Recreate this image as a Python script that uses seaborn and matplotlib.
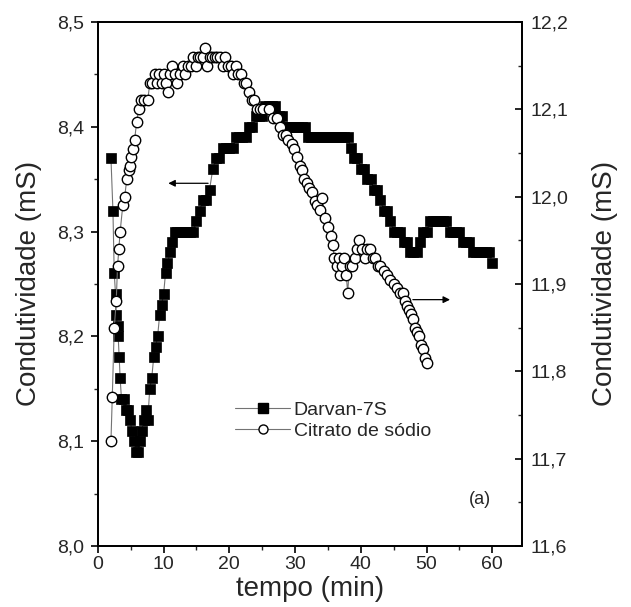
import matplotlib
matplotlib.use('Agg')
import matplotlib.pyplot as plt
import matplotlib.ticker as mticker
from matplotlib.lines import Line2D
import seaborn as sns
import pandas as pd

# Darvan-7S (eixo esquerdo)
darvan_t = [2.0, 2.3, 2.5, 2.7, 2.8, 3.0, 3.1, 3.25, 3.4, 3.6, 4.0, 4.3, 4.6, 4.9,
            5.2, 5.5, 5.8, 6.1, 6.4, 6.7, 7.0, 7.3, 7.6, 7.9, 8.2, 8.5, 8.8, 9.1,
            9.4, 9.7, 10.0, 10.3, 10.6, 11.0, 11.3, 11.7, 12.0, 12.5, 13.0, 13.5,
            14.0, 14.5, 15.0, 15.5, 16.0, 16.5, 17.0, 17.5, 18.0, 18.5, 19.0, 19.5,
            20.0, 20.5, 21.0, 21.5, 22.0, 22.5, 23.0, 23.5, 24.0, 24.5, 25.0, 25.5,
            26.0, 26.5, 27.0, 27.5, 28.0, 28.5, 29.0, 29.5, 30.0, 30.5, 31.0, 31.5,
            32.0, 32.5, 33.0, 33.5, 34.0, 34.5, 35.0, 35.5, 36.0, 36.5, 37.0, 37.5,
            38.0, 38.5, 39.0, 39.5, 40.0, 40.5, 41.0, 41.5, 42.0, 42.5, 43.0, 43.5,
            44.0, 44.5, 45.0, 45.5, 46.0, 46.5, 47.0, 47.5, 48.0, 48.5, 49.0, 49.5,
            50.0, 50.5, 51.0, 51.5, 52.0, 52.5, 53.0, 53.5, 54.0, 54.5, 55.0, 55.5,
            56.0, 56.5, 57.0, 57.5, 58.0, 58.5, 59.0, 59.5, 60.0]
darvan_v = [8.37, 8.32, 8.26, 8.24, 8.22, 8.21, 8.20, 8.18, 8.16, 8.14, 8.14, 8.13, 8.13, 8.12,
            8.11, 8.10, 8.09, 8.09, 8.10, 8.11, 8.12, 8.13, 8.12, 8.15, 8.16, 8.18, 8.19, 8.20,
            8.22, 8.23, 8.24, 8.26, 8.27, 8.28, 8.29, 8.30, 8.30, 8.30, 8.30, 8.30,
            8.30, 8.30, 8.31, 8.32, 8.33, 8.33, 8.34, 8.36, 8.37, 8.37, 8.38, 8.38,
            8.38, 8.38, 8.39, 8.39, 8.39, 8.39, 8.40, 8.40, 8.41, 8.41, 8.41, 8.42,
            8.42, 8.42, 8.42, 8.41, 8.41, 8.40, 8.40, 8.40, 8.40, 8.40, 8.40, 8.40,
            8.39, 8.39, 8.39, 8.39, 8.39, 8.39, 8.39, 8.39, 8.39, 8.39, 8.39, 8.39,
            8.39, 8.38, 8.37, 8.37, 8.36, 8.36, 8.35, 8.35, 8.34, 8.34, 8.33, 8.32,
            8.32, 8.31, 8.30, 8.30, 8.30, 8.29, 8.29, 8.28, 8.28, 8.28, 8.29, 8.30,
            8.30, 8.31, 8.31, 8.31, 8.31, 8.31, 8.31, 8.30, 8.30, 8.30, 8.30, 8.29,
            8.29, 8.29, 8.28, 8.28, 8.28, 8.28, 8.28, 8.28, 8.27]

# Citrato de sodio (eixo direito)
citrato_t = [2.0, 2.2, 2.5, 2.8, 3.0, 3.2, 3.4, 3.8, 4.1, 4.4, 4.7, 4.9, 5.1, 5.4, 5.6,
             5.9, 6.2, 6.5, 7.0, 7.6, 7.9, 8.3, 8.7, 9.0, 9.3, 9.7, 10.0, 10.4, 10.7,
             11.0, 11.3, 11.7, 12.1, 12.5, 12.9, 13.3, 13.7, 14.1, 14.5, 14.9, 15.2,
             15.6, 16.0, 16.3, 16.6, 17.0, 17.4, 17.8, 18.2, 18.6, 19.0, 19.4, 19.8,
             20.2, 20.6, 21.0, 21.4, 21.8, 22.2, 22.6, 23.0, 23.4, 23.8, 24.2, 24.6,
             25.2, 26.0, 26.7, 27.2, 27.7, 28.2, 28.6, 29.0, 29.5, 29.8, 30.3, 30.7,
             31.1, 31.4, 31.8, 32.2, 32.6, 33.0, 33.4, 33.8, 34.1, 34.5, 35.0, 35.4,
             35.7, 36.0, 36.4, 36.7, 36.9, 37.2, 37.5, 37.8, 38.0, 38.3, 38.7, 39.1,
             39.5, 39.8, 40.2, 40.6, 41.0, 41.4, 41.8, 42.2, 42.6, 43.0, 43.5, 44.0,
             44.5, 45.0, 45.5, 46.0, 46.4, 46.7, 47.0, 47.3, 47.6, 47.9, 48.2, 48.5,
             48.8, 49.1, 49.4, 49.7, 50.0]
citrato_v = [11.72, 11.77, 11.85, 11.88, 11.92, 11.94, 11.96, 11.99, 12.00, 12.02, 12.03, 12.035, 12.045, 12.055, 12.065,
             12.085, 12.10, 12.11, 12.11, 12.11, 12.13, 12.13, 12.14, 12.13, 12.14, 12.13, 12.14, 12.13, 12.12,
             12.14, 12.15, 12.14, 12.13, 12.14, 12.15, 12.14, 12.15, 12.15, 12.16, 12.15, 12.16,
             12.16, 12.16, 12.17, 12.15, 12.16, 12.16, 12.16, 12.16, 12.16, 12.15, 12.16, 12.15,
             12.15, 12.14, 12.15, 12.14, 12.14, 12.13, 12.13, 12.12, 12.11, 12.11, 12.10, 12.10,
             12.10, 12.10, 12.09, 12.09, 12.08, 12.07, 12.07, 12.065, 12.06, 12.055, 12.045, 12.035,
             12.03, 12.02, 12.015, 12.01, 12.005, 11.995, 11.99, 11.985, 11.998, 11.975, 11.965, 11.955,
             11.945, 11.93, 11.92, 11.93, 11.91, 11.92, 11.93, 11.91, 11.89, 11.92, 11.92, 11.93,
             11.94, 11.95, 11.94, 11.93, 11.94, 11.94, 11.93, 11.93, 11.92, 11.92, 11.915, 11.91,
             11.905, 11.90, 11.895, 11.89, 11.89, 11.88, 11.875, 11.87, 11.865, 11.86, 11.85, 11.845,
             11.84, 11.83, 11.825, 11.815, 11.81]

sns.set_style("ticks")
plt.rcParams['font.family'] = ['Liberation Sans', 'DejaVu Sans']

df1 = pd.DataFrame({'t': darvan_t, 'v': darvan_v})
df2 = pd.DataFrame({'t': citrato_t, 'v': citrato_v})

fig = plt.figure(figsize=(6.31, 6.07), dpi=100)
ax = fig.add_axes([0.155, 0.1005, 0.672, 0.8635])
ax2 = ax.twinx()

sns.lineplot(x='t', y='v', data=df1, ax=ax, sort=False, estimator=None,
             color='0.45', linewidth=0.8, marker='s', markersize=7.5,
             markerfacecolor='black', markeredgecolor='black', markeredgewidth=0.5)
sns.lineplot(x='t', y='v', data=df2, ax=ax2, sort=False, estimator=None,
             color='0.45', linewidth=0.8, marker='o', markersize=7.5,
             markerfacecolor='white', markeredgecolor='black', markeredgewidth=1.0)

ax.set_xlim(0, 64.5)
ax.set_ylim(8.0, 8.5)
ax2.set_ylim(11.6, 12.2)

comma = mticker.FuncFormatter(lambda v, p: f"{v:.1f}".replace('.', ','))
ax.yaxis.set_major_locator(mticker.MultipleLocator(0.1))
ax.yaxis.set_minor_locator(mticker.MultipleLocator(0.05))
ax.yaxis.set_major_formatter(comma)
ax2.yaxis.set_major_locator(mticker.MultipleLocator(0.1))
ax2.yaxis.set_minor_locator(mticker.MultipleLocator(0.05))
ax2.yaxis.set_major_formatter(comma)
ax.xaxis.set_major_locator(mticker.MultipleLocator(10))
ax.xaxis.set_minor_locator(mticker.MultipleLocator(5))

for a in (ax, ax2):
    for s in a.spines.values():
        s.set_color('black')
        s.set_linewidth(1.3)
ax.tick_params(which='major', direction='out', length=5, width=1.2, labelsize=14,
               colors='black', labelcolor='0.15', pad=5)
ax.tick_params(which='minor', direction='out', length=3, width=1.0)
ax.tick_params(axis='x', which='major', pad=2.5)
ax2.tick_params(which='major', direction='in', length=5, width=1.2, labelsize=14,
                colors='black', labelcolor='0.15', pad=6)
ax2.tick_params(which='minor', direction='in', length=3, width=1.0)
ax.tick_params(top=False, which='both')
ax2.tick_params(top=False, which='both')

ax.set_xlabel('tempo (min)', fontsize=20, labelpad=2)
ax.set_ylabel('Condutividade (mS)', fontsize=20, labelpad=11)
ax2.set_ylabel('Condutividade (mS)', fontsize=20, labelpad=17)

# setas indicando os eixos
ax.annotate('', xy=(10.3, 8.346), xytext=(17.2, 8.346),
            arrowprops=dict(arrowstyle='-|>', color='black', lw=0.9, mutation_scale=10))
ax2.annotate('', xy=(54.0, 11.882), xytext=(47.5, 11.882),
             arrowprops=dict(arrowstyle='-|>', color='black', lw=0.9, mutation_scale=10))

ax.text(58.1, 8.044, '(a)', fontsize=13, ha='center', va='center')

handles = [
    Line2D([], [], color='0.45', lw=0.8, marker='s', markersize=7.5,
           markerfacecolor='black', markeredgecolor='black'),
    Line2D([], [], color='0.45', lw=0.8, marker='o', markersize=6.5,
           markerfacecolor='white', markeredgecolor='black'),
]
ax2.legend(handles, ['Darvan-7S', 'Citrato de sódio'], frameon=False, fontsize=14,
           loc='upper left', bbox_to_anchor=(0.283, 0.31), handlelength=2.8,
           handletextpad=0.2, labelspacing=0.2)

plt.savefig('out.png', dpi=100)
plt.close()
